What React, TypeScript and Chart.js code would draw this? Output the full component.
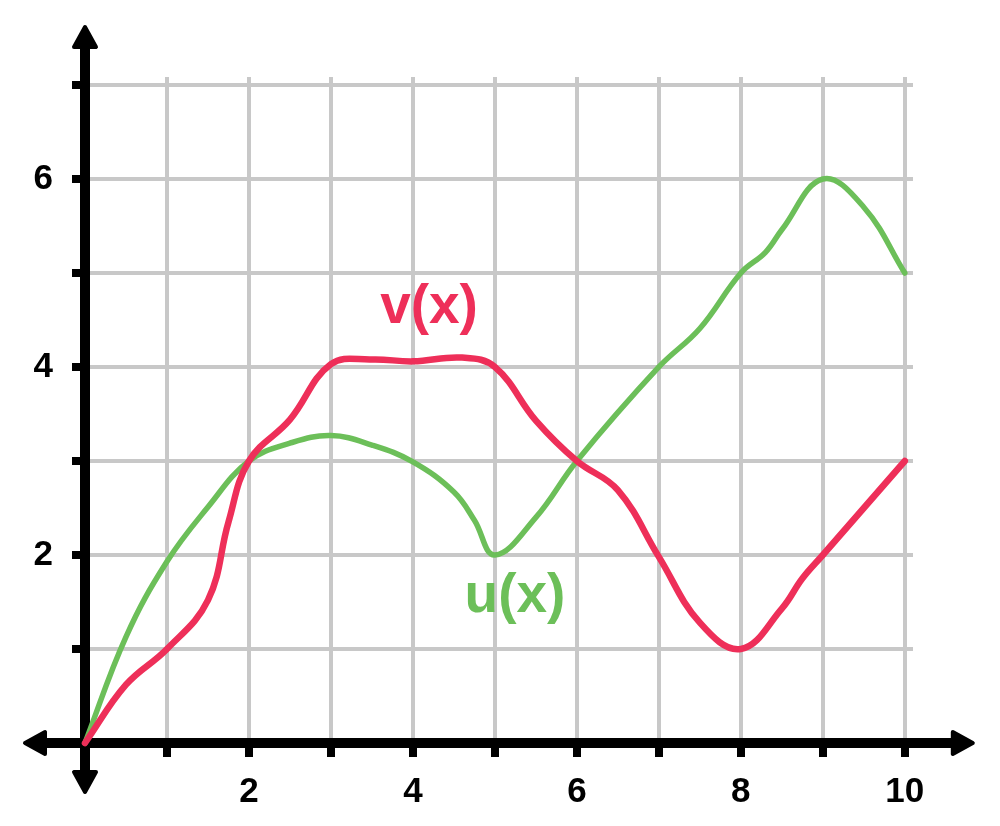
import React, { useEffect, useRef } from "react";
import { Chart, registerables } from "chart.js";

Chart.register(...registerables);

// u(x) – green curve
const uXs = [0, 0.5, 1, 1.5, 2, 2.5, 3, 3.5, 4, 4.5, 4.75, 5, 5.5, 6, 7, 7.5, 8, 8.3, 8.5, 9, 9.5, 10];
const uYs = [0, 1.13, 1.93, 2.51, 3.0, 3.19, 3.27, 3.17, 2.99, 2.67, 2.37, 2.0, 2.4, 3.0, 4.0, 4.41, 5.0, 5.22, 5.46, 6.0, 5.7, 5.0];

// v(x) – red curve
const vXs = [0, 0.5, 1, 1.5, 1.75, 2, 2.5, 3, 3.5, 4, 4.6, 5, 5.5, 6, 6.5, 7, 7.5, 8, 8.5, 8.75, 9, 10];
const vYs = [0, 0.62, 1.0, 1.52, 2.35, 3.0, 3.44, 4.03, 4.08, 4.06, 4.1, 4.0, 3.43, 3.0, 2.69, 1.98, 1.28, 1.0, 1.43, 1.75, 2.0, 3.0];

const xTickLabels = [2, 4, 6, 8, 10];
const yTickLabels = [2, 4, 6];

const curveLabels = ["v(x)", "u(x)"];
const curveLabelX = [3.6, 4.63];
const curveLabelY = [4.47, 1.39];

const RED = "#ee2f59";
const GREEN = "#6cbf59";
const FONT = "'Liberation Sans', Arial, Helvetica, sans-serif";

const axesPlugin = {
  id: "axesArrows",
  beforeDatasetsDraw(chart: any) {
    const ctx = chart.ctx;
    const xs = chart.scales.x;
    const ys = chart.scales.y;
    const x0 = xs.getPixelForValue(0);
    const y0 = ys.getPixelForValue(0);
    const xEnd = xs.getPixelForValue(10);
    const yTop = ys.getPixelForValue(7);
    const leftTip = x0 - 62;
    const rightTip = xEnd + 70;
    const topTip = yTop - 60;
    const bottomTip = y0 + 51;
    ctx.save();
    ctx.strokeStyle = "#000";
    ctx.fillStyle = "#000";
    ctx.lineWidth = 10;
    ctx.lineCap = "butt";
    ctx.beginPath();
    ctx.moveTo(leftTip + 15, y0);
    ctx.lineTo(rightTip - 15, y0);
    ctx.moveTo(x0, topTip + 15);
    ctx.lineTo(x0, bottomTip - 15);
    ctx.stroke();
    ctx.lineWidth = 4;
    ctx.lineJoin = "round";
    const head = (tx: number, ty: number, dx: number, dy: number) => {
      const L = 22;
      const W = 11;
      const bx = tx - dx * L;
      const by = ty - dy * L;
      const px = -dy;
      const py = dx;
      ctx.beginPath();
      ctx.moveTo(tx - dx * 2, ty - dy * 2);
      ctx.lineTo(bx + px * W, by + py * W);
      ctx.lineTo(bx - px * W, by - py * W);
      ctx.closePath();
      ctx.fill();
      ctx.stroke();
    };
    head(leftTip, y0, -1, 0);
    head(rightTip, y0, 1, 0);
    head(x0, topTip, 0, -1);
    head(x0, bottomTip, 0, 1);
    ctx.restore();
  },
  afterDatasetsDraw(chart: any) {
    const ctx = chart.ctx;
    const xs = chart.scales.x;
    const ys = chart.scales.y;
    ctx.save();
    ctx.font = `bold 55px ${FONT}`;
    ctx.textAlign = "left";
    ctx.textBaseline = "alphabetic";
    const colors = [RED, GREEN];
    curveLabels.forEach((t, i) => {
      ctx.fillStyle = colors[i];
      ctx.fillText(t, xs.getPixelForValue(curveLabelX[i]), ys.getPixelForValue(curveLabelY[i]));
    });
    ctx.restore();
  },
};

export default function App() {
  const ref = useRef<HTMLCanvasElement | null>(null);

  useEffect(() => {
    if (!ref.current) return;
    const chart = new Chart(ref.current, {
      type: "line",
      data: {
        datasets: [
          {
            label: "v(x)",
            data: vXs.map((x, i) => ({ x, y: vYs[i] })),
            borderColor: RED,
            borderWidth: 6.5,
            pointRadius: 0,
            tension: 0.4,
            borderCapStyle: "round",
            borderJoinStyle: "round",
            clip: false,
            fill: false,
          },
          {
            label: "u(x)",
            data: uXs.map((x, i) => ({ x, y: uYs[i] })),
            borderColor: GREEN,
            borderWidth: 5.5,
            pointRadius: 0,
            tension: 0.4,
            borderCapStyle: "round",
            borderJoinStyle: "round",
            clip: false,
            fill: false,
          },
        ] as any,
      },
      options: {
        animation: false,
        responsive: false,
        devicePixelRatio: 1,
        layout: { padding: { left: 0, right: 87, top: 77, bottom: 0 } },
        plugins: {
          legend: { display: false },
          tooltip: { enabled: false },
        },
        scales: {
          x: {
            type: "linear",
            min: 0,
            max: 10.1,
            afterFit: (s: any) => {
              s.height = 83;
            },
            border: { display: false },
            grid: {
              color: "#c8c8c8",
              lineWidth: 4,
              tickColor: "#000",
              tickWidth: 8,
              tickLength: 14,
            },
            ticks: {
              stepSize: 1,
              includeBounds: false,
              autoSkip: false,
              maxRotation: 0,
              padding: 14,
              color: "#000",
              font: { family: FONT, size: 35, weight: "bold" },
              callback: (v: any) => (xTickLabels.includes(Number(v)) ? String(v) : ""),
            },
          },
          y: {
            type: "linear",
            min: 0,
            max: 7.085,
            afterFit: (s: any) => {
              s.width = 85;
            },
            border: { display: false },
            grid: {
              color: "#c8c8c8",
              lineWidth: 4,
              tickColor: "#000",
              tickWidth: 8,
              tickLength: 13,
            },
            ticks: {
              stepSize: 1,
              includeBounds: false,
              autoSkip: false,
              padding: 19,
              color: "#000",
              font: { family: FONT, size: 35, weight: "bold" },
              callback: (v: any) => (yTickLabels.includes(Number(v)) ? String(v) : ""),
            },
          },
        },
      } as any,
      plugins: [axesPlugin],
    });
    return () => chart.destroy();
  }, []);

  return (
    <div style={{ position: "fixed", left: 0, top: 0, width: 1000, height: 826, background: "#fff" }}>
      <canvas ref={ref} width={1000} height={826} style={{ width: 1000, height: 826 }} />
    </div>
  );
}
